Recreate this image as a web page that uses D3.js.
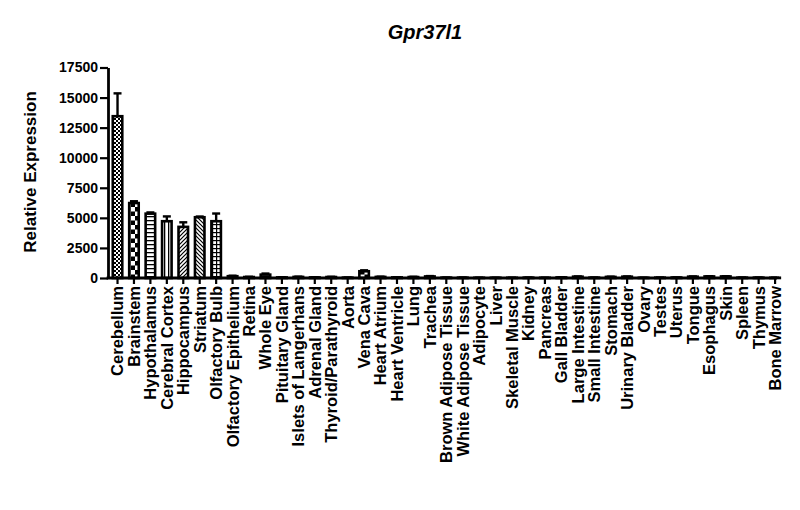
<!DOCTYPE html>
<html>
<head>
	<meta charset="utf-8">
	<style>
		body { margin: 0; background: white; }
		text { font-family: "Liberation Sans", Arial, sans-serif; font-weight: bold; fill: black; }
		.axisBlack path, .axisBlack line { stroke: black; }
	</style>
	<title>Gpr37l1</title>
</head>
<body>
	<script src="https://cdnjs.cloudflare.com/ajax/libs/d3/7.8.5/d3.min.js"></script>
	<script>
	// Tissues on the x axis
	var tissues = ["Cerebellum", "Brainstem", "Hypothalamus", "Cerebral Cortex", "Hippocampus",
	               "Striatum", "Olfactory Bulb", "Olfactory Epithelium", "Retina", "Whole Eye",
	               "Pituitary Gland", "Islets of Langerhans", "Adrenal Gland", "Thyroid/Parathyroid",
	               "Aorta", "Vena Cava", "Heart Atrium", "Heart Ventricle", "Lung", "Trachea",
	               "Brown Adipose Tissue", "White Adipose Tissue", "Adipocyte", "Liver",
	               "Skeletal Muscle", "Kidney", "Pancreas", "Gall Bladder", "Large Intestine",
	               "Small Intestine", "Stomach", "Urinary Bladder", "Ovary", "Testes", "Uterus",
	               "Tongue", "Esophagus", "Skin", "Spleen", "Thymus", "Bone Marrow"];

	// Mean relative expression
	var expression = [13450, 6230, 5350, 4720, 4250, 5050, 4720, 150, 80, 280,
	                  50, 90, 50, 80, 30, 560, 90, 50, 80, 130,
	                  30, 30, 20, 20, 20, 30, 20, 50, 110, 30,
	                  90, 110, 20, 30, 40, 110, 130, 130, 30, 30, 20];

	// SEM
	var sem = [1900, 150, 100, 400, 380, 60, 640, 40, 20, 90,
	           10, 20, 10, 20, 10, 80, 20, 10, 20, 30,
	           10, 10, 5, 5, 5, 10, 5, 10, 20, 10,
	           20, 20, 5, 10, 10, 20, 20, 20, 10, 10, 5];

	var yTicks = [0, 2500, 5000, 7500, 10000, 12500, 15000, 17500];

	var svg = d3.select("body")
	            .append("svg")
	            .attr("width", 800)
	            .attr("height", 510);

	// fill patterns (GraphPad-like)
	var defs = svg.append("defs");
	function pat(id, size) {
		return defs.append("pattern")
		           .attr("id", id)
		           .attr("patternUnits", "userSpaceOnUse")
		           .attr("width", size)
		           .attr("height", size);
	}
	var p = pat("checkFine", 4);
	p.append("rect").attr("width", 4).attr("height", 4).style("fill", "white");
	p.append("rect").attr("width", 2).attr("height", 2).style("fill", "black");
	p.append("rect").attr("x", 2).attr("y", 2).attr("width", 2).attr("height", 2).style("fill", "black");

	p = pat("checkLarge", 9);
	p.append("rect").attr("width", 9).attr("height", 9).style("fill", "white");
	p.append("rect").attr("width", 4.5).attr("height", 4.5).style("fill", "black");
	p.append("rect").attr("x", 4.5).attr("y", 4.5).attr("width", 4.5).attr("height", 4.5).style("fill", "black");

	p = pat("hLines", 4);
	p.append("rect").attr("width", 4).attr("height", 4).style("fill", "white");
	p.append("rect").attr("y", 0).attr("width", 4).attr("height", 1.3).style("fill", "black");

	p = pat("vLines", 4);
	p.append("rect").attr("width", 4).attr("height", 4).style("fill", "white");
	p.append("rect").attr("x", 0).attr("width", 1.3).attr("height", 4).style("fill", "black");

	p = pat("diagUp", 4);
	p.append("rect").attr("width", 4).attr("height", 4).style("fill", "white");
	p.append("path").attr("d", "M-1,1 L1,-1 M0,4 L4,0 M3,5 L5,3").style("stroke", "black").style("stroke-width", 1.2);

	p = pat("diagDown", 4);
	p.append("rect").attr("width", 4).attr("height", 4).style("fill", "white");
	p.append("path").attr("d", "M-1,3 L1,5 M0,0 L4,4 M3,-1 L5,1").style("stroke", "black").style("stroke-width", 1.2);

	p = pat("grid", 4);
	p.append("rect").attr("width", 4).attr("height", 4).style("fill", "white");
	p.append("rect").attr("width", 4).attr("height", 1.2).style("fill", "black");
	p.append("rect").attr("width", 1.2).attr("height", 4).style("fill", "black");

	var patternIds = ["checkFine", "checkLarge", "hLines", "vLines", "diagUp", "diagDown", "grid"];

	var xScale = d3.scaleBand()
	               .domain(tissues)
	               .range([109.3, 783.3])
	               .paddingInner(0.3)
	               .paddingOuter(0.15);

	var yScale = d3.scaleLinear()
	               .domain([0, 17500])
	               .range([278, 67.5]);

	// bars
	svg.selectAll("rect.bar")
	   .data(expression)
	   .enter()
	   .append("rect")
	   .attr("class", "bar")
	   .attr("x", function(d, i){
	        return xScale(tissues[i]) + 1;
	   })
	   .attr("y", function(d){
	        return yScale(d);
	   })
	   .attr("width", xScale.bandwidth() - 2)
	   .attr("height", function(d){
	        return yScale(0) - yScale(d);
	   })
	   .style("fill", function(d, i){
	        return "url(#" + patternIds[i % patternIds.length] + ")";
	   })
	   .style("stroke", "black")
	   .style("stroke-width", 2.6);

	// error bars
	var errG = svg.append("g")
	              .style("stroke", "black")
	              .style("stroke-width", 2.4);
	errG.selectAll("line.err")
	    .data(expression)
	    .enter()
	    .append("line")
	    .attr("x1", function(d, i){ return xScale(tissues[i]) + xScale.bandwidth() / 2; })
	    .attr("x2", function(d, i){ return xScale(tissues[i]) + xScale.bandwidth() / 2; })
	    .attr("y1", function(d){ return yScale(d); })
	    .attr("y2", function(d, i){ return yScale(d + sem[i]); });
	errG.selectAll("line.cap")
	    .data(expression)
	    .enter()
	    .append("line")
	    .attr("x1", function(d, i){ return xScale(tissues[i]) + xScale.bandwidth() / 2 - 4; })
	    .attr("x2", function(d, i){ return xScale(tissues[i]) + xScale.bandwidth() / 2 + 4; })
	    .attr("y1", function(d, i){ return yScale(d + sem[i]); })
	    .attr("y2", function(d, i){ return yScale(d + sem[i]); });

	// y axis
	var yAxis = d3.axisLeft()
	              .scale(yScale)
	              .tickValues(yTicks)
	              .tickSize(8)
	              .tickSizeOuter(0)
	              .tickPadding(2)
	              .tickFormat(d3.format("d"));
	var gy = svg.append("g")
	   .attr("class", "axisBlack")
	   .attr("transform", "translate(" + 108 + "," + 0 + ")")
	   .call(yAxis);
	gy.select(".domain").style("stroke-width", 2.8);
	gy.selectAll(".tick line").style("stroke-width", 2.2);
	gy.selectAll(".tick text")
	  .style("font-size", "14px")
	  .style("font-family", "'Liberation Sans', Arial, sans-serif")
	  .style("font-weight", "bold");

	// x axis
	var xAxis = d3.axisBottom()
	              .scale(xScale)
	              .tickSize(6)
	              .tickSizeOuter(0);
	var gx = svg.append("g")
	   .attr("class", "axisBlack")
	   .attr("transform", "translate(" + 0 + "," + 278 + ")")
	   .call(xAxis);
	gx.select(".domain").remove();
	gx.append("line")
	  .attr("x1", 106.6)
	  .attr("x2", 777)
	  .style("stroke", "black")
	  .style("stroke-width", 2.8);
	gx.selectAll(".tick line").style("stroke-width", 2.2);
	gx.selectAll(".tick text")
	  .attr("transform", "rotate(-90)")
	  .attr("x", -8)
	  .attr("y", 0)
	  .attr("dy", "0.36em")
	  .style("text-anchor", "end")
	  .style("font-size", "16.5px")
	  .style("font-family", "'Liberation Sans', Arial, sans-serif")
	  .style("font-weight", "bold");

	// title
	svg.append("text")
	   .attr("x", 425)
	   .attr("y", 39)
	   .style("text-anchor", "middle")
	   .style("font-size", "20px")
	   .style("font-style", "italic")
	   .text("Gpr37l1");

	// y axis label
	svg.append("text")
	   .attr("x", -172)
	   .attr("y", 36)
	   .attr("transform", "rotate(-90)")
	   .style("text-anchor", "middle")
	   .style("font-size", "17px")
	   .text("Relative Expression");
	</script>
</body>
</html>
